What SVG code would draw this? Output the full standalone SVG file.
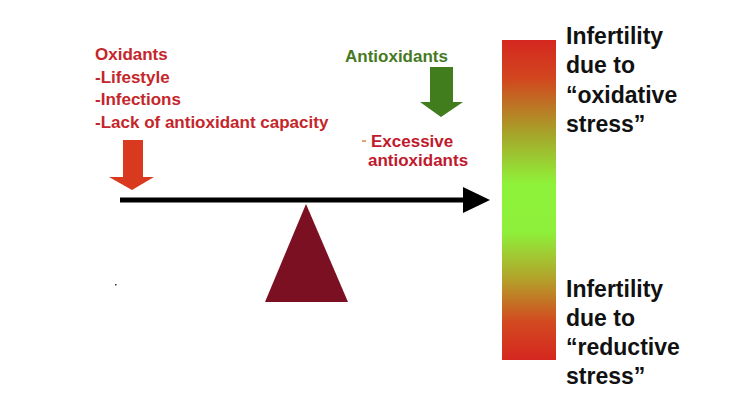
<svg xmlns="http://www.w3.org/2000/svg" width="753" height="408" viewBox="0 0 753 408">
<style>
.t{font-family:"Liberation Sans",Arial,sans-serif;font-weight:bold}
.red{fill:#c4262b;font-size:17px}
.grn{fill:#467a1f;font-size:17px}
.crim{fill:#c0192d;font-size:17px}
.blk{fill:#111;font-size:23px}
</style>
<defs>
<linearGradient id="bar" x1="0" y1="0" x2="0" y2="1">
<stop offset="0" stop-color="#d5271f"/>
<stop offset="0.12" stop-color="#d2461f"/>
<stop offset="0.3" stop-color="#a5a82a"/>
<stop offset="0.45" stop-color="#8ff23a"/>
<stop offset="0.6" stop-color="#8ef03a"/>
<stop offset="0.75" stop-color="#b4a02a"/>
<stop offset="0.88" stop-color="#d24a20"/>
<stop offset="1" stop-color="#d5271f"/>
</linearGradient>
</defs>
<rect width="753" height="408" fill="#fff"/>
<g id="oxidants">
<text class="t red" x="95" y="60">Oxidants</text>
<text class="t red" x="95" y="83">-Lifestyle</text>
<text class="t red" x="95" y="105">-Infections</text>
<text class="t red" x="95" y="128">-Lack of antioxidant capacity</text>
<polygon points="123,140 143,140 143,177 154,177 132,190 109,177 123,177" fill="#d9391f"/>
</g>
<g id="antioxidants">
<text class="t grn" x="345" y="62">Antioxidants</text>
<polygon points="430,67 453,67 453,102 463,102 441,117 420,102 430,102" fill="#417d1c"/>
</g>
<g id="excessive">
<rect x="362" y="140" width="4" height="2" fill="#e8a070"/>
<text class="t crim" x="371" y="147">Excessive</text>
<text class="t crim" x="368" y="166">antioxidants</text>
</g>
<g id="connectors">
<line x1="120" y1="200" x2="466" y2="200" stroke="#000" stroke-width="5"/>
<polygon points="463,187 490,200 463,213" fill="#000"/>
</g>
<g id="fulcrum">
<polygon points="306,204 348,302 265,302" fill="#7b1022"/>
</g>
<rect x="115" y="284" width="1.5" height="1.5" fill="#333"/>
<g id="scale">
<rect x="502" y="40" width="54" height="320" fill="url(#bar)"/>
</g>
<g id="oxidative">
<text class="t blk" x="566" y="44">Infertility</text>
<text class="t blk" x="566" y="73">due to</text>
<text class="t blk" x="566" y="103">“oxidative</text>
<text class="t blk" x="566" y="132">stress”</text>
</g>
<g id="reductive">
<text class="t blk" x="566" y="297">Infertility</text>
<text class="t blk" x="566" y="326">due to</text>
<text class="t blk" x="566" y="355">“reductive</text>
<text class="t blk" x="566" y="384">stress”</text>
</g>
</svg>
